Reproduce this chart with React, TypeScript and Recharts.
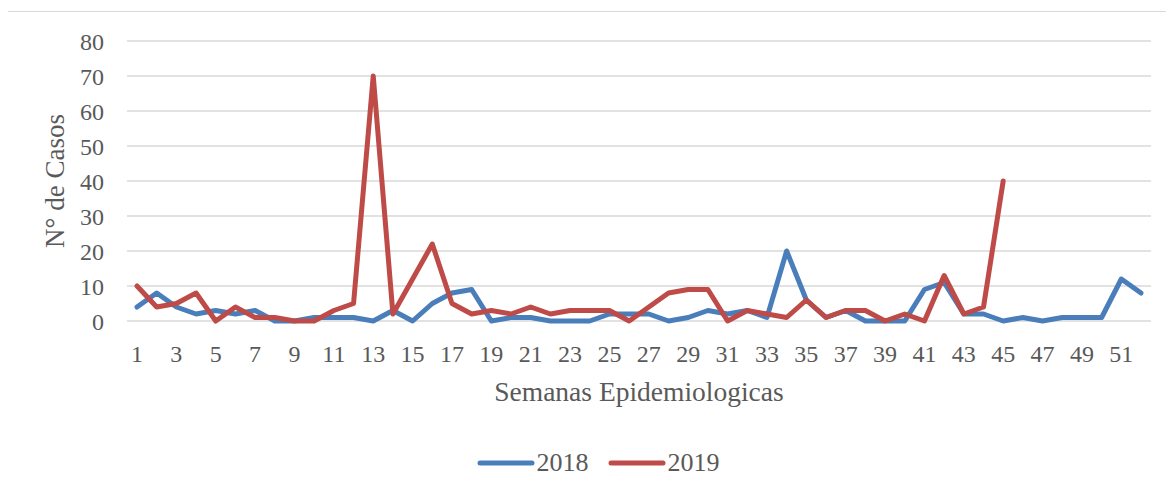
import React from "react";
import { LineChart, Line, XAxis, YAxis, CartesianGrid, Legend } from "recharts";

const weeks: number[] = Array.from({ length: 52 }, (_, i) => i + 1);
const cases2018: number[] = [
  4, 8, 4, 2, 3, 2, 3, 0, 0, 1, 1, 1, 0, 3, 0, 5, 8, 9, 0, 1, 1, 0, 0, 0, 2, 2,
  2, 0, 1, 3, 2, 3, 1, 20, 6, 1, 3, 0, 0, 0, 9, 11, 2, 2, 0, 1, 0, 1, 1, 1, 12, 8,
];
const cases2019: (number | null)[] = [
  10, 4, 5, 8, 0, 4, 1, 1, 0, 0, 3, 5, 70, 2, 12, 22, 5, 2, 3, 2, 4, 2, 3, 3, 3, 0,
  4, 8, 9, 9, 0, 3, 2, 1, 6, 1, 3, 3, 0, 2, 0, 13, 2, 4, 40,
  null, null, null, null, null, null, null,
];
const yTicks: number[] = [0, 10, 20, 30, 40, 50, 60, 70, 80];
const seriesNames = ["2018", "2019"];
const colors = ["#4A7EBB", "#BE4B48"];

const data = weeks.map((w, i) => ({
  week: w,
  s2018: cases2018[i],
  s2019: cases2019[i],
}));

const FONT = "'Liberation Serif', serif";
const TEXT = "#595959";

const YLabel = (props: any) => {
  const vb = props.viewBox || {};
  const cy = vb.y + vb.height / 2;
  const cx = 55;
  return (
    <text
      x={cx}
      y={cy}
      transform={`rotate(-90, ${cx}, ${cy})`}
      textAnchor="middle"
      dominantBaseline="central"
      fill={TEXT}
      fontFamily={FONT}
      fontSize={27}
    >
      N° de Casos
    </text>
  );
};

const LegendContent = () => (
  <div
    style={{
      display: "flex",
      justifyContent: "center",
      alignItems: "center",
      height: 30,
      paddingLeft: 45,
      fontFamily: FONT,
      fontSize: 26,
      color: TEXT,
    }}
  >
    {seriesNames.map((n, i) => (
      <div key={n} style={{ display: "flex", alignItems: "center", marginRight: i === 0 ? 19 : 0 }}>
        <svg width={58} height={10} style={{ marginRight: 2 }}>
          <line x1={3} y1={5} x2={55} y2={5} stroke={colors[i]} strokeWidth={5} strokeLinecap="round" />
        </svg>
        <span>{n}</span>
      </div>
    ))}
  </div>
);

export default function App() {
  return (
    <div style={{ position: "relative", margin: -8, width: 1174, height: 495, overflow: "hidden", background: "#fff" }}>
      <div
        style={{
          position: "absolute",
          left: 5,
          top: 11,
          width: 1200,
          height: 600,
          border: "1px solid #D9D9D9",
        }}
      />
      <div style={{ position: "absolute", left: 0, top: 0 }}>
        <LineChart
          width={1174}
          height={495}
          data={data}
          margin={{ top: 41, right: 23, left: 0, bottom: 17 }}
        >
          <CartesianGrid vertical={false} stroke="#D9D9D9" strokeWidth={1.5} />
          <XAxis
            dataKey="week"
            type="category"
            interval={1}
            axisLine={false}
            tickLine={false}
            height={127}
            tickMargin={18}
            padding={{ left: 10, right: 10 }}
            tick={{ fill: TEXT, fontFamily: FONT, fontSize: 24 }}
            label={{
              value: "Semanas Epidemiologicas",
              position: "insideTop",
              offset: 60,
              fill: TEXT,
              fontFamily: FONT,
              fontSize: 27.5,
            }}
          />
          <YAxis
            domain={[0, 80]}
            ticks={yTicks}
            width={127}
            axisLine={false}
            tickLine={false}
            tickMargin={17}
            tick={{ fill: TEXT, fontFamily: FONT, fontSize: 24 }}
            label={<YLabel />}
          />
          <Legend verticalAlign="bottom" content={<LegendContent />} />
          <Line
            type="linear"
            dataKey="s2018"
            name="2018"
            stroke={colors[0]}
            strokeWidth={5}
            dot={false}
            activeDot={false}
            strokeLinejoin="round"
            strokeLinecap="round"
            isAnimationActive={false}
          />
          <Line
            type="linear"
            dataKey="s2019"
            name="2019"
            stroke={colors[1]}
            strokeWidth={5}
            dot={false}
            activeDot={false}
            strokeLinejoin="round"
            strokeLinecap="round"
            isAnimationActive={false}
          />
        </LineChart>
      </div>
    </div>
  );
}
